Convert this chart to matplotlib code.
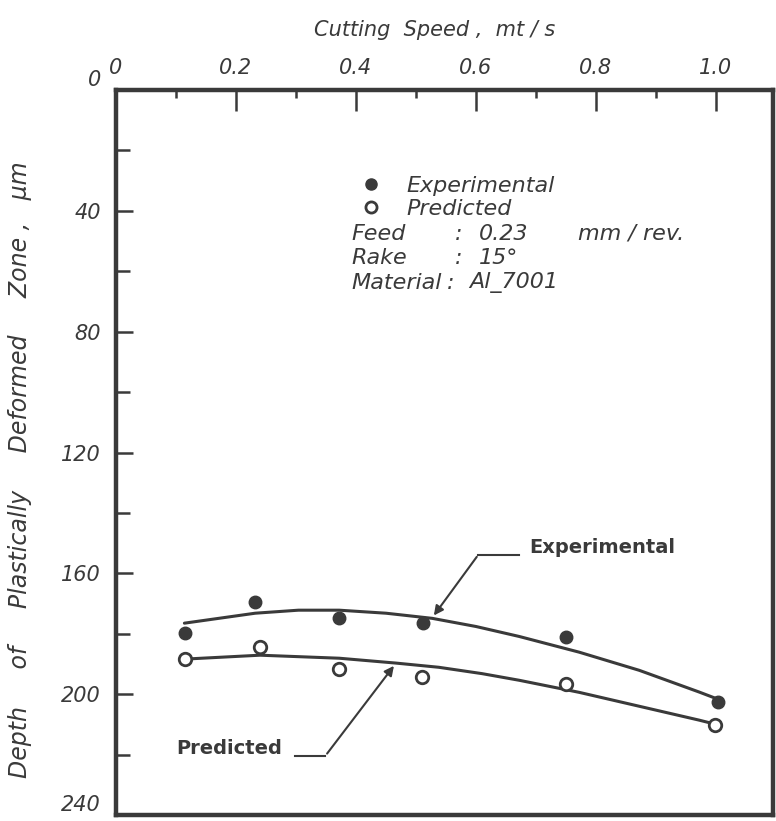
"""
plot.py
Depth of the plastically deformed zone against cutting speed (Al-7001).
"""

import matplotlib
matplotlib.use('Agg')
import matplotlib.pyplot as plt
from matplotlib.ticker import MultipleLocator
from matplotlib.lines import Line2D

# measured points
speed_exp = [0.115, 0.232, 0.372, 0.511, 0.750, 1.003]
depth_exp = [179.8, 169.5, 174.8, 176.5, 181.1, 202.6]
speed_pred = [0.115, 0.240, 0.372, 0.510, 0.750, 0.998]
depth_pred = [188.4, 184.4, 191.7, 194.4, 196.7, 210.3]

# drawn curves
curve_speed_exp = [0.114, 0.232, 0.304, 0.372, 0.450, 0.527, 0.600, 0.672, 0.772, 0.872, 0.972, 1.005]
curve_depth_exp = [176.5, 173.2, 172.2, 172.2, 173.2, 174.9, 177.6, 180.9, 186.1, 192.1, 199.3, 201.8]
curve_speed_pred = [0.114, 0.240, 0.372, 0.466, 0.538, 0.610, 0.672, 0.772, 0.872, 0.972, 1.000]
curve_depth_pred = [188.4, 187.1, 188.1, 189.7, 191.1, 193.2, 195.4, 199.4, 204.0, 208.6, 210.0]

x_ticks = [0, 0.2, 0.4, 0.6, 0.8, 1.0]
x_tick_labels = ['0', '0.2', '0.4', '0.6', '0.8', '1.0']
y_ticks = [0, 40, 80, 120, 160, 200, 240]

INK = '#3a3a3a'


def plot_deformed_zone():
    """
    Plot depth of deformed zone vs cutting speed, y axis pointing down.
    """
    fig = plt.figure(figsize=(7.76, 8.21), dpi=100)
    ax = fig.add_axes([116 / 776, 6 / 821, 657 / 776, 725 / 821])

    ax.plot(curve_speed_exp, curve_depth_exp, color=INK, lw=2.2, solid_capstyle='round')
    ax.plot(curve_speed_pred, curve_depth_pred, color=INK, lw=2.2, solid_capstyle='round')
    ax.plot(speed_exp, depth_exp, 'o', color=INK, ms=9, zorder=3)
    ax.plot(speed_pred, depth_pred, 'o', mfc='white', mec=INK, mew=2, ms=9, zorder=3)

    ax.set_xlim(0, 1.095)
    ax.set_ylim(240, 0)

    ax.xaxis.tick_top()
    ax.set_xticks(x_ticks)
    ax.set_xticklabels(x_tick_labels)
    ax.xaxis.set_minor_locator(MultipleLocator(0.1))
    ax.set_yticks(y_ticks)
    ax.yaxis.set_minor_locator(MultipleLocator(20))
    ax.tick_params(axis='x', which='major', direction='in', length=15, width=1.8,
                   pad=9, colors=INK, labelsize=15)
    ax.tick_params(axis='x', which='minor', direction='in', length=6, width=1.8, colors=INK)
    ax.tick_params(axis='y', which='major', direction='in', length=12, width=1.8,
                   pad=11, colors=INK, labelsize=15)
    ax.tick_params(axis='y', which='minor', direction='in', length=10, width=1.8, colors=INK)
    for lab in ax.get_xticklabels() + ax.get_yticklabels():
        lab.set_fontstyle('italic')
    ylabels = ax.get_yticklabels()
    ylabels[0].set_va('bottom')
    ylabels[-1].set_va('bottom')
    for sp in ax.spines.values():
        sp.set_linewidth(3.2)
        sp.set_color(INK)

    fig.text(435 / 776, 1 - 30 / 821, 'Cutting  Speed ,  mt / s', ha='center', va='center',
             fontsize=15, style='italic', color=INK)
    fig.text(20 / 776, 1 - 470 / 821,
             'Depth     of     Plastically     Deformed     Zone ,   μm',
             rotation=90, ha='center', va='center', fontsize=17, style='italic', color=INK)

    # legend and test conditions
    handles = [Line2D([], [], ls='', marker='o', color=INK, ms=8),
               Line2D([], [], ls='', marker='o', mfc='white', mec=INK, mew=2, ms=8)]
    ax.legend(handles, ['Experimental', 'Predicted'], loc='upper left',
              bbox_to_anchor=(0.375, 0.882), frameon=False, borderpad=0,
              borderaxespad=0, handlelength=0.8, handletextpad=1.2, labelspacing=0.15,
              prop={'size': 16, 'style': 'italic'}, labelcolor=INK)
    rows = [('Feed', ':', '0.23', 'mm / rev.'), ('Rake', ':', '15°', ''),
            ('Material', ':', 'Al_7001', '')]
    for i, (name, colon, value, unit) in enumerate(rows):
        y = 0.802 - i * 0.034
        ax.text(0.358, y, name, transform=ax.transAxes, fontsize=16, style='italic',
                color=INK, va='center')
        ax.text(0.503 if i == 2 else 0.516, y, colon, transform=ax.transAxes, fontsize=16,
                style='italic', color=INK, va='center')
        ax.text(0.538 if i == 2 else 0.553, y, value, transform=ax.transAxes, fontsize=16,
                style='italic', color=INK, va='center')
        if unit:
            ax.text(0.703, y, unit, transform=ax.transAxes, fontsize=16, style='italic',
                    color=INK, va='center')

    # curve labels with leaders
    ax.text(0.688, 151.5, 'Experimental', fontsize=14, fontweight='bold', color=INK,
            va='center')
    ax.plot([0.604, 0.672], [153.8, 153.8], color=INK, lw=1.5)
    ax.annotate('', xy=(0.527, 174.7), xytext=(0.604, 153.8),
                arrowprops=dict(arrowstyle='-|>', color=INK, lw=1.5, mutation_scale=14))
    ax.text(0.100, 218.0, 'Predicted', fontsize=14, fontweight='bold', color=INK,
            va='center')
    ax.plot([0.299, 0.349], [220.4, 220.4], color=INK, lw=1.5)
    ax.annotate('', xy=(0.466, 189.9), xytext=(0.349, 220.4),
                arrowprops=dict(arrowstyle='-|>', color=INK, lw=1.5, mutation_scale=14))

    plt.savefig('out.png', dpi=100)


plot_deformed_zone()
